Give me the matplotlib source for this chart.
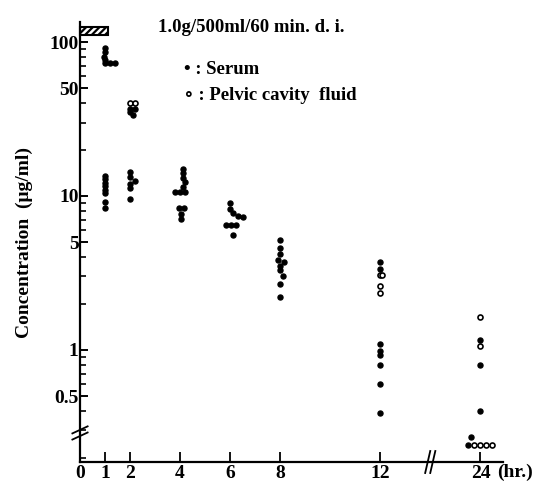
import numpy as np
import matplotlib
matplotlib.use("Agg")
import matplotlib.pyplot as plt
from matplotlib.ticker import FixedLocator, NullFormatter

# ---------------------------------------------------
# Data (time in hr, conc in ug/ml)
# ---------------------------------------------------

serum_t = [1.0, 1.0, 0.95, 1.0, 1.0, 1.2, 1.4,
           1.0, 1.0, 1.0, 1.0, 1.0, 1.0, 1.0, 1.0,
           2.0, 2.2, 2.0, 2.1,
           2.0, 2.0, 2.2, 2.0, 2.0, 2.0,
           4.1, 4.1, 4.1, 4.2, 4.1, 3.8, 4.0, 4.2,
           3.95, 4.15, 4.05, 4.05,
           6.0, 6.0, 6.1, 6.3, 6.5, 5.85, 6.05, 6.25, 6.1,
           8.0, 8.0, 8.0, 7.9, 8.15, 8.0, 8.0, 8.1, 8.0, 8.0,
           12.0, 12.0, 12.0, 12.0, 12.0, 12.0, 12.0, 12.0,
           24.0, 24.0, 24.0, 22.9, 22.56]
serum_c = [92, 86, 80, 76, 73, 73, 73,
           13.5, 12.8, 12.2, 11.6, 11.0, 10.5, 9.2, 8.3,
           37, 37, 35, 33.5,
           14.3, 13.3, 12.6, 12.0, 11.2, 9.5,
           15.0, 14.0, 13.0, 12.3, 11.5, 10.6, 10.6, 10.6,
           8.3, 8.3, 7.6, 7.1,
           9.0, 8.2, 7.8, 7.4, 7.3, 6.5, 6.5, 6.5, 5.6,
           5.2, 4.6, 4.2, 3.85, 3.75, 3.5, 3.3, 3.0, 2.7, 2.2,
           3.7, 3.35, 1.1, 0.99, 0.92, 0.80, 0.60, 0.39,
           1.16, 0.80, 0.40, 0.27, 0.24]

pelvic_t = [2.0, 2.2,
            12.0, 12.25, 12.0, 12.0,
            24.0, 24.0, 23.28, 24.0, 24.72, 25.44]
pelvic_c = [40, 40,
            3.05, 3.05, 2.6, 2.35,
            1.64, 1.06, 0.24, 0.24, 0.24, 0.24]

# infusion bar (0 - 60 min)
infusion_t = [0.0, 1.1]
infusion_c = [111, 125]

tick_t = [0, 1, 2, 4, 6, 8, 12, 24]
y_major = [0.5, 1, 5, 10, 50, 100]
y_minor = [0.2, 0.3, 0.4, 0.6, 0.7, 0.8, 0.9, 2, 3, 4, 6, 7, 8, 9,
           20, 30, 40, 60, 70, 80, 90]


# compressed axis after 12 hr
def fwd(x):
    x = np.asarray(x, dtype=float)
    return np.where(x <= 12, x, 12 + (x - 12) / 3.0)


def inv(x):
    x = np.asarray(x, dtype=float)
    return np.where(x <= 12, x, 12 + (x - 12) * 3.0)


plt.rcParams['font.family'] = ['Liberation Serif', 'DejaVu Serif']
plt.rcParams['font.weight'] = 'bold'
plt.rcParams['axes.labelweight'] = 'bold'
plt.rcParams['hatch.linewidth'] = 1.6

fig = plt.figure(figsize=(5.39, 4.83), dpi=100)
ax = fig.add_axes([80 / 539, 1 - 462 / 483, 423 / 539, 440 / 483])

ax.set_xscale('function', functions=(fwd, inv))
ax.set_yscale('log')
ax.set_xlim(0, 26.7)
ax.set_ylim(0.187, 135)

ax.bar(infusion_t[0], infusion_c[1] - infusion_c[0], bottom=infusion_c[0],
       width=infusion_t[1] - infusion_t[0], align='edge',
       facecolor='white', edgecolor='black', hatch='/////', linewidth=1.5,
       clip_on=False)

ax.plot(serum_t, serum_c, 'o', color='black', ms=3.6, clip_on=False)
ax.plot(pelvic_t, pelvic_c, 'o', mfc='white', mec='black', mew=1.2,
        ms=3.6, clip_on=False)

# axes styling
for s in ['top', 'right']:
    ax.spines[s].set_visible(False)
for s in ['left', 'bottom']:
    ax.spines[s].set_linewidth(1.6)

ax.yaxis.set_major_locator(FixedLocator(y_major))
ax.yaxis.set_minor_locator(FixedLocator(y_minor))
ax.yaxis.set_minor_formatter(NullFormatter())
ax.set_yticklabels(['0.5', '1', '5', '10', '50', '100'])
ax.tick_params(axis='y', which='major', direction='in', length=6, width=1.4,
               labelsize=14, pad=1)
ax.tick_params(axis='y', which='minor', direction='in', length=4, width=1.2)

ax.xaxis.set_major_locator(FixedLocator(tick_t))
ax.xaxis.set_minor_locator(FixedLocator([]))
ax.set_xticklabels([str(t) for t in tick_t])
ax.tick_params(axis='x', which='major', direction='in', length=7, width=1.3,
               labelsize=14, pad=2)

# break marks
kw = dict(transform=ax.transAxes, color='black', lw=1.3, clip_on=False)
for dy in [-0.007, 0.007]:
    ax.plot([-0.018, 0.018], [0.058 + dy, 0.074 + dy], **kw)
for dx in [-0.006, 0.006]:
    ax.plot([0.822 + dx, 0.834 + dx], [-0.025, 0.025], **kw)

ax.set_ylabel('Concentration  (\u03bcg/ml)', fontsize=14, fontweight='bold',
              labelpad=12)

fig.text(497 / 539, 1 - 472 / 483, '(hr.)', fontsize=14, va='center',
         ha='left')
fig.text(158 / 539, 1 - 28 / 483, '1.0g/500ml/60 min. d. i.', fontsize=13.5,
         va='center', ha='left')

fig.text(184 / 539, 1 - 70 / 483, '\u2022 : Serum', fontsize=13.5,
         va='center', ha='left')
fig.text(184 / 539, 1 - 96 / 483, '\u2218 : Pelvic cavity  fluid',
         fontsize=13.5, va='center', ha='left')

plt.savefig('out.png', dpi=100)
